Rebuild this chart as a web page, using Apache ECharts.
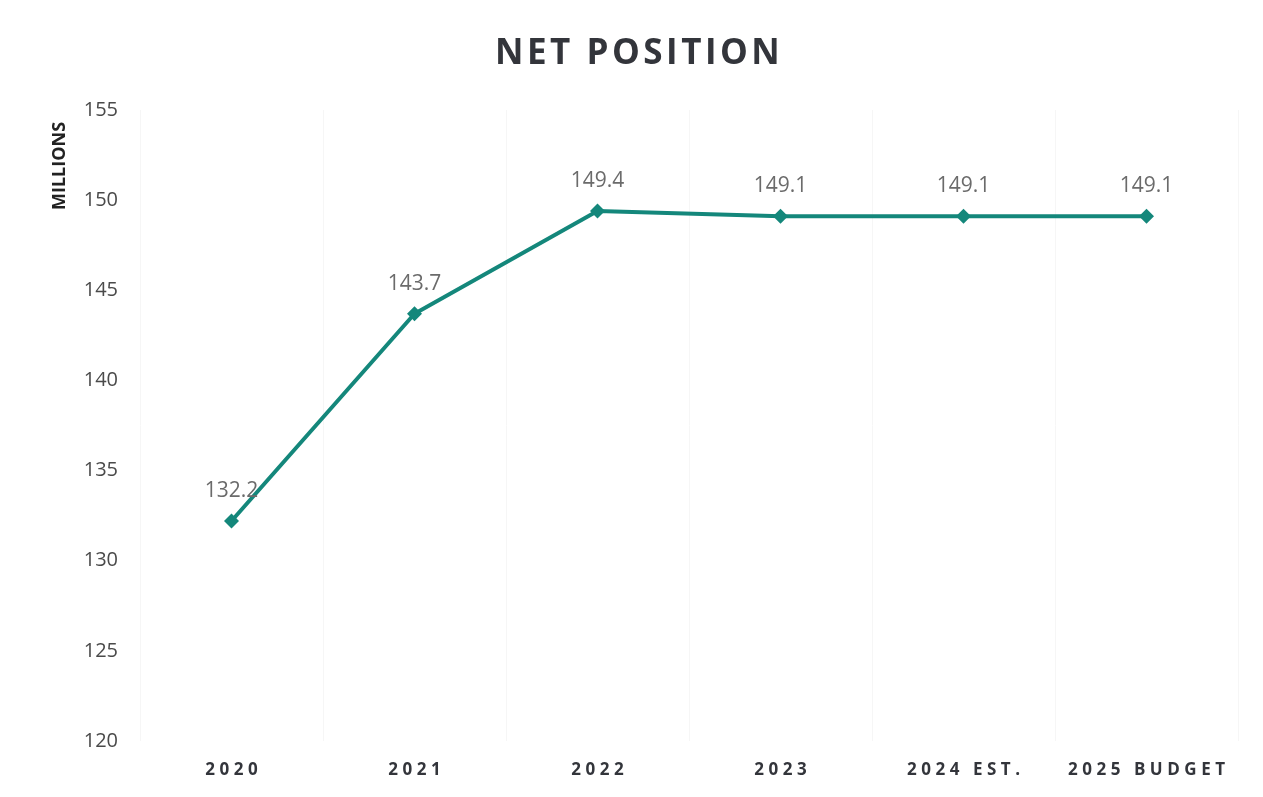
<!DOCTYPE html>
<html>
<head>
<meta charset="utf-8">
<script src="https://cdn.jsdelivr.net/npm/echarts@6/dist/echarts.min.js"></script>
<style>
  html, body { margin: 0; padding: 0; background: #fff; }
  #chart { width: 1263px; height: 797px; }
</style>
</head>
<body>
<div id="chart"></div>
<script>
  var categories = ['2020', '2021', '2022', '2023', '2024 EST.', '2025 BUDGET'];
  var netPosition = [132.2, 143.7, 149.4, 149.1, 149.1, 149.1];
  var yTicks = [120, 125, 130, 135, 140, 145, 150, 155];

  // spread letters a bit, the source uses tracked caps
  function spaced(s, gap) {
    return s.split('').join(gap);
  }

  var chart = echarts.init(document.getElementById('chart'));
  chart.setOption({
    animation: false,
    title: {
      text: spaced('NET POSITION', '\u200A'),
      left: 495,
      top: 32,
      padding: [5, 0, 5, 0],
      textStyle: {
        fontFamily: 'Open Sans',
        fontWeight: 'bold',
        fontSize: 35,
        color: '#33353b'
      }
    },
    grid: {
      left: 140,
      right: 25,
      top: 110,
      bottom: 56
    },
    graphic: [{
      type: 'text',
      x: 60,
      y: 166,
      rotation: Math.PI / 2,
      style: {
        text: 'MILLIONS',
        fontFamily: 'Open Sans',
        fontWeight: 'bold',
        fontSize: 18,
        fill: '#222',
        align: 'center',
        verticalAlign: 'middle'
      }
    }],
    xAxis: {
      type: 'category',
      data: categories,
      axisLine: { show: false },
      axisTick: { show: false },
      splitLine: { show: true, interval: 0, lineStyle: { color: '#f6f6f6', width: 1 } },
      axisLabel: {
        interval: 0,
        hideOverlap: false,
        margin: 21,
        fontFamily: 'Open Sans',
        fontWeight: 'bold',
        fontSize: 17,
        color: '#33353b',
        formatter: function (v) { return spaced(v, '\u2009\u200A'); }
      }
    },
    yAxis: {
      type: 'value',
      min: yTicks[0],
      max: yTicks[yTicks.length - 1],
      interval: 5,
      axisLine: { show: false },
      axisTick: { show: false },
      splitLine: { show: false },
      axisLabel: {
        margin: 22,
        fontFamily: 'Open Sans',
        fontSize: 20,
        color: '#4a4a4a'
      }
    },
    series: [{
      type: 'line',
      data: netPosition,
      symbol: 'diamond',
      symbolSize: 15,
      lineStyle: { color: '#14877b', width: 4 },
      itemStyle: { color: '#14877b' },
      label: {
        show: true,
        position: 'top',
        distance: 12,
        fontFamily: 'Open Sans',
        fontSize: 21,
        color: '#6b6b6b',
        formatter: function (p) { return p.value.toFixed(1); }
      }
    }]
  });
</script>
</body>
</html>
